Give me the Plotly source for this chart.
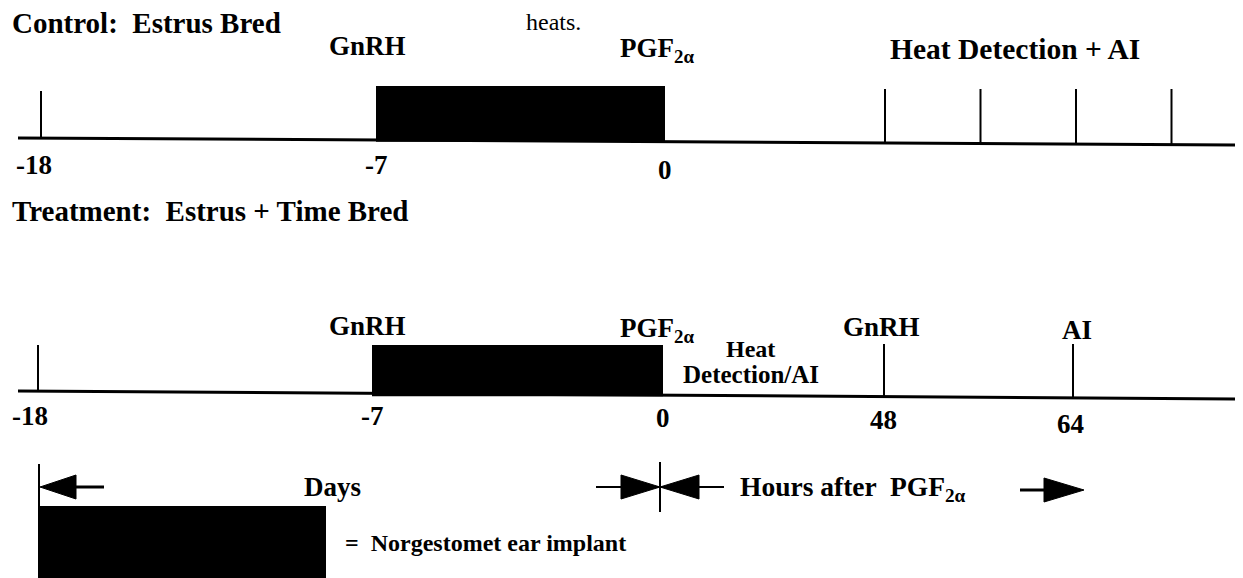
import numpy as np
import plotly.graph_objects as go

# ---------------- data ----------------
control_title = "Control:  Estrus Bred"
treatment_title = "Treatment:  Estrus + Time Bred"
note_text = "heats."

day_ticks = [-18, -7, 0]
day_labels = ["-18", "-7", "0"]
implant_days = [-7, 0]                      # Norgestomet implant period (days)
implant_labels = ["GnRH", "PGF<sub>2α</sub>"]

control_heat_hours = [48, 56, 64, 72]        # heat detection + AI checks
control_heat_label = "Heat Detection + AI"

treatment_hours = [48, 64]
treatment_hour_labels = ["48", "64"]
treatment_hour_events = ["GnRH", "AI"]
treatment_window_label = ["Heat", "Detection/AI"]

days_label = "Days"
hours_label = "Hours after  PGF<sub>2α</sub>"
legend_label = "=  Norgestomet ear implant"

# ---------------- schematic scales (layout) ----------------
W, H = 1243, 578
SCALES = {
    "control":   {"day": ([-18, -7, 0], [33, 368, 657]), "hour": ([0, 48, 64], [657, 877, 1068]), "y0": 130, "y1": 137},
    "treatment": {"day": ([-18, -7, 0], [30, 364, 655]), "hour": ([0, 48, 64], [655, 876, 1065]), "y0": 383, "y1": 391},
}


def xmap(panel, kind, v):
    xs, px = SCALES[panel][kind]
    v = np.asarray(v, dtype=float)
    out = np.interp(v, xs, px)
    slope = (px[-1] - px[-2]) / (xs[-1] - xs[-2])
    return np.where(v > xs[-1], px[-1] + (v - xs[-1]) * slope, out)


def ybase(panel, x):
    s = SCALES[panel]
    return float(s["y0"] + (float(x) - 10) * (s["y1"] - s["y0"]) / (W - 10))


FONT = "Liberation Serif"
BOLD = 27
fig = go.Figure()
shapes = []
ann = []


def text(x, y, t, size=BOLD, xanchor="center", bold=True):
    ann.append(dict(x=float(x), y=float(y), text=(f"<b>{t}</b>" if bold else t), showarrow=False,
                    xanchor=xanchor, yanchor="middle", xref="x", yref="y",
                    font=dict(family=FONT, size=size, color="black")))


def line(x0, y0, x1, y1, w=2):
    shapes.append(dict(type="line", x0=float(x0), y0=float(y0), x1=float(x1), y1=float(y1),
                       xref="x", yref="y", line=dict(color="black", width=w)))


def tri(xs, ys):
    fig.add_trace(go.Scatter(x=[float(v) for v in xs] + [float(xs[0])],
                             y=[float(v) for v in ys] + [float(ys[0])], mode="lines",
                             fill="toself", fillcolor="black", line=dict(color="black", width=1),
                             hoverinfo="skip", showlegend=False))


# ---------- Control panel ----------
text(2, 15, control_title, size=29, xanchor="left")
text(545, 14, note_text, size=24, bold=False)
line(10, ybase("control", 10), W, ybase("control", W), 3)
cx = xmap("control", "day", implant_days)
shapes.append(dict(type="rect", x0=float(cx[0]), x1=float(cx[1]), y0=78,
                   y1=ybase("control", cx[1]), fillcolor="black", line=dict(width=0),
                   xref="x", yref="y"))
x18 = float(xmap("control", "day", [-18])[0])
line(x18, 83, x18, ybase("control", x18), 2)
text(cx[0] - 9, 38, implant_labels[0])
text(cx[1] - 47, 42, implant_labels[1], xanchor="left")
hx = xmap("control", "hour", control_heat_hours)
for x in hx:
    line(x, 81, x, ybase("control", x), 2)
text(hx[0] + 3, 41, control_heat_label, size=29.5, xanchor="left")
for d, lab in zip(day_ticks, day_labels):
    x = float(xmap("control", "day", [d])[0])
    text(x - (7 if d == -18 else 0), 157 + (5 if d == 0 else 0), lab)

# ---------- Treatment panel ----------
text(2, 203, treatment_title, size=29, xanchor="left")
line(10, ybase("treatment", 10), W, ybase("treatment", W), 3)
tx = xmap("treatment", "day", implant_days)
shapes.append(dict(type="rect", x0=float(tx[0]), x1=float(tx[1]), y0=337,
                   y1=ybase("treatment", tx[1]) + 1, fillcolor="black", line=dict(width=0),
                   xref="x", yref="y"))
t18 = float(xmap("treatment", "day", [-18])[0])
line(t18, 337, t18, ybase("treatment", t18), 2)
text(tx[0] - 5, 318, implant_labels[0])
text(tx[1] - 45, 322, implant_labels[1], xanchor="left")
text(tx[1] + 87, 341, treatment_window_label[0], size=24)
text(tx[1] + 18, 366, treatment_window_label[1], size=25, xanchor="left")
for d, lab in zip(day_ticks, day_labels):
    x = float(xmap("treatment", "day", [d])[0])
    text(x - (8 if d == -18 else 0), 408 + (2 if d == 0 else 0), lab)
thx = xmap("treatment", "hour", treatment_hours)
for x, ev, lab in zip(thx, treatment_hour_events, treatment_hour_labels):
    line(x, 336, x, ybase("treatment", x), 2)
    text(x + (-3 if ev == "GnRH" else 4), 319 + (0 if ev == "GnRH" else 3), ev)
    text(x - (3 if lab == "64" else 1), 412 + (4 if lab == "64" else 0), lab)

# ---------- Scale explanation row ----------
ay = 479
line(t18 + 1, 456, t18 + 1, 499, 2)
tri([t18 + 2, t18 + 38, t18 + 38], [ay, ay - 12, ay + 12])
line(t18 + 38, ay, t18 + 66, ay, 3)
text(324, ay, days_label)

z = float(tx[1])
my = 479
line(z - 3, 454, z - 3, 504, 2)
line(z - 67, my, z + 61, my, 2)
tri([z - 42, z - 3, z - 42], [my - 12, my, my + 12])
tri([z + 36, z - 3, z + 36], [my - 12, my, my + 12])
text(z + 75, 480, hours_label, size=27.5, xanchor="left")
line(1012, 482, 1038, 482, 3)
tri([1036, 1076, 1036], [470, 482, 494])

# ---------- Legend ----------
shapes.append(dict(type="rect", x0=30, x1=318, y0=498, y1=H + 5, fillcolor="black",
                   line=dict(width=0), xref="x", yref="y"))
text(335, 535, legend_label, size=24, xanchor="left")

fig.update_layout(
    width=W, height=H, margin=dict(l=0, r=0, t=0, b=0),
    paper_bgcolor="white", plot_bgcolor="white",
    xaxis=dict(range=[0, W], visible=False, fixedrange=True),
    yaxis=dict(range=[H, 0], visible=False, fixedrange=True),
    shapes=shapes, annotations=ann, showlegend=False,
)
fig.write_html("out.html")
